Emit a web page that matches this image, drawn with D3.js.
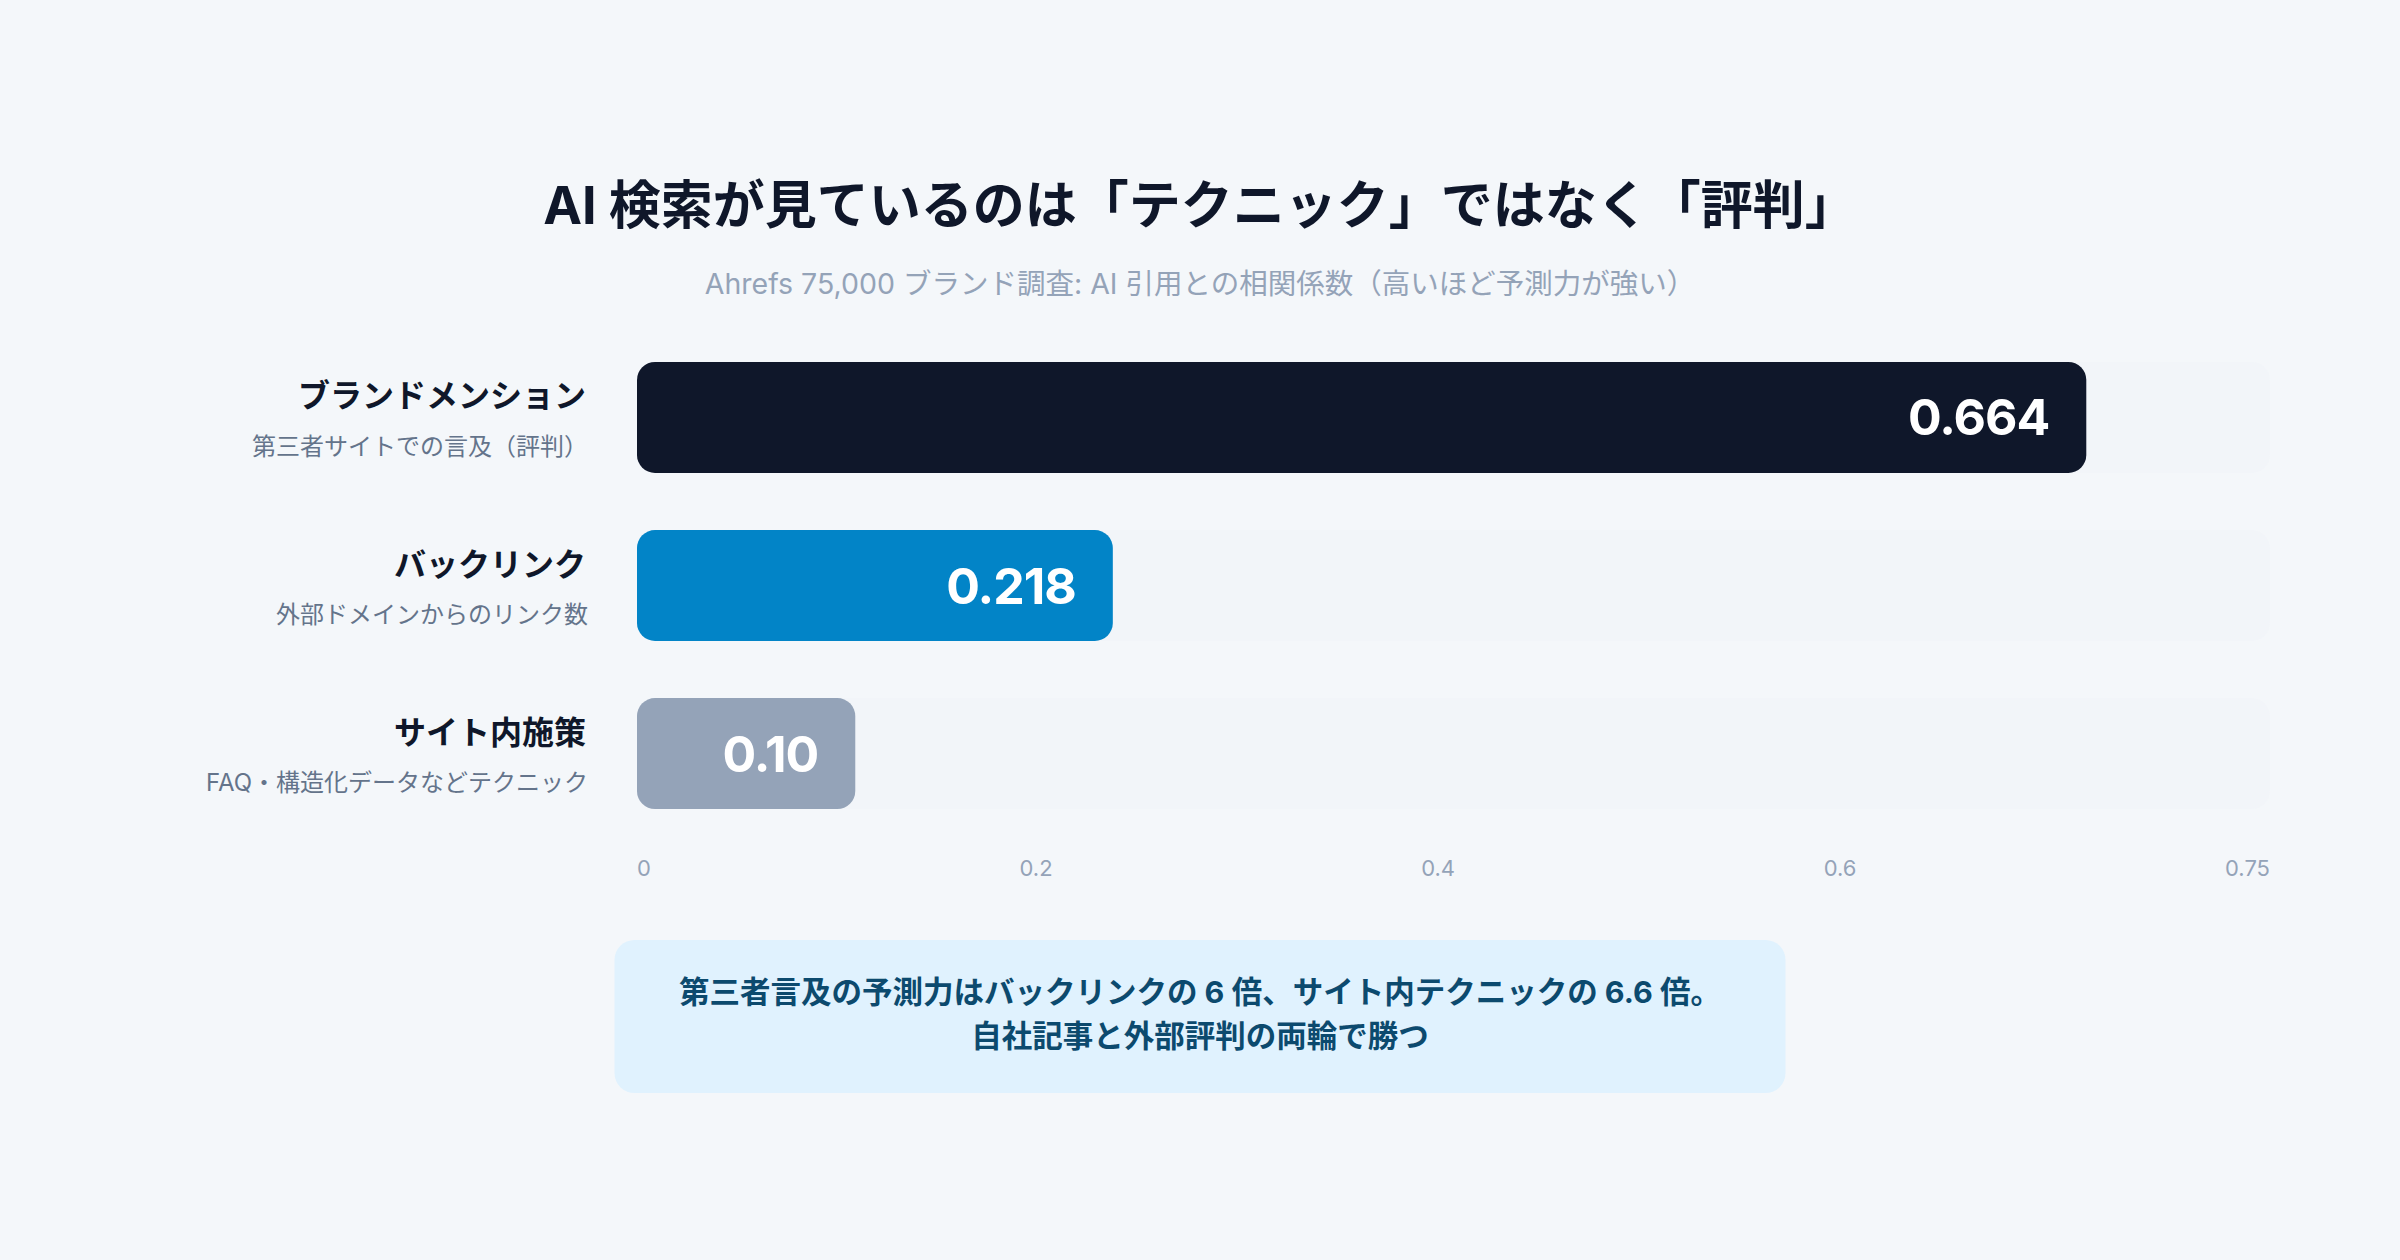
<!DOCTYPE html>
<html lang="ja">
<head>
<meta charset="utf-8">
<script src="https://cdn.jsdelivr.net/npm/d3@7"></script>
<style>
  body { margin: 0; background: #f4f7fa; }
  svg { display: block; }
</style>
</head>
<body>
<div id="chart-area"></div>
<script>
// Data
let categories = ["ブランドメンション", "バックリンク", "サイト内施策"]
let subLabels = ["第三者サイトでの言及（評判）", "外部ドメインからのリンク数", "FAQ・構造化データなどテクニック"]
let values = [0.664, 0.218, 0.10]
let valueLabels = ["0.664", "0.218", "0.10"]
let barColors = ["#0f172a", "#0284c7", "#94a3b8"]
let tickLabels = ["0", "0.2", "0.4", "0.6", "0.75"]
let maxValue = 0.75

let title = "AI 検索が見ているのは「テクニック」ではなく「評判」"
let subtitle = "Ahrefs 75,000 ブランド調査: AI 引用との相関係数（高いほど予測力が強い）"
let noteLines = ["第三者言及の予測力はバックリンクの 6 倍、サイト内テクニックの 6.6 倍。", "自社記事と外部評判の両輪で勝つ"]

width = 2400
height = 1260

let jp = '"Noto Sans CJK JP", "Noto Sans", sans-serif'
let num = 'Inter, "Noto Sans CJK JP", sans-serif'

let data = categories.map((c, i) => ({
  name: c,
  sub: subLabels[i],
  value: values[i],
  label: valueLabels[i],
  color: barColors[i]
}))

Draw(data)

function Draw(data) {

  // scales
  let xScale = d3.scaleLinear().domain([0, maxValue]).range([637, 2274])
  let trackEnd = 2270

  let yScale = d3.scaleBand()
    .domain(categories)
    .range([362, 809])
    .paddingInner(0.34)
    .paddingOuter(0)

  svg = d3.select("#chart-area")
    .append("svg")
    .attr("width", width)
    .attr("height", height)

  svg.append("rect")
    .attr("width", width)
    .attr("height", height)
    .attr("fill", "#f4f7fa")

  // title + subtitle
  svg.append("text")
    .attr("x", width / 2)
    .attr("y", 205)
    .attr("text-anchor", "middle")
    .attr("dominant-baseline", "central")
    .attr("font-family", num)
    .attr("font-size", 52)
    .attr("font-weight", 700)
    .attr("fill", "#0f172a")
    .text(title)

  svg.append("text")
    .attr("x", width / 2)
    .attr("y", 283)
    .attr("text-anchor", "middle")
    .attr("dominant-baseline", "central")
    .attr("font-family", num)
    .attr("font-size", 28.5)
    .attr("fill", "#94a3b8")
    .text(subtitle)

  // faint tracks
  svg.selectAll("rect.track")
    .data(data)
    .enter().append("rect")
    .attr("class", "track")
    .attr("x", xScale(0))
    .attr("y", d => yScale(d.name))
    .attr("width", trackEnd - xScale(0))
    .attr("height", yScale.bandwidth())
    .attr("rx", 18)
    .attr("fill", "#e2e8f0")
    .attr("fill-opacity", 0.07)

  // bars
  svg.selectAll("rect.bar")
    .data(data)
    .enter().append("rect")
    .attr("class", "bar")
    .attr("x", xScale(0))
    .attr("y", d => yScale(d.name))
    .attr("width", d => xScale(d.value) - xScale(0))
    .attr("height", yScale.bandwidth())
    .attr("rx", 18)
    .attr("fill", d => d.color)

  // values inside bars
  svg.selectAll("text.value")
    .data(data)
    .enter().append("text")
    .attr("class", "value")
    .attr("x", d => xScale(d.value) - 37)
    .attr("y", d => yScale(d.name) + yScale.bandwidth() / 2)
    .attr("text-anchor", "end")
    .attr("dominant-baseline", "central")
    .attr("font-family", num)
    .attr("font-size", 50)
    .attr("font-weight", 700)
    .attr("letter-spacing", -1)
    .attr("fill", "#ffffff")
    .text(d => d.label)

  // category labels
  svg.selectAll("text.cat")
    .data(data)
    .enter().append("text")
    .attr("class", "cat")
    .attr("x", 586)
    .attr("y", d => yScale(d.name) + yScale.bandwidth() / 2 - 24)
    .attr("text-anchor", "end")
    .attr("dominant-baseline", "central")
    .attr("font-family", jp)
    .attr("font-size", 32)
    .attr("font-weight", 700)
    .attr("fill", "#0f172a")
    .text(d => d.name)

  svg.selectAll("text.sub")
    .data(data)
    .enter().append("text")
    .attr("class", "sub")
    .attr("x", 588)
    .attr("y", d => yScale(d.name) + yScale.bandwidth() / 2 + 29)
    .attr("text-anchor", "end")
    .attr("dominant-baseline", "central")
    .attr("font-family", num)
    .attr("font-size", 24)
    .attr("fill", "#64748b")
    .text(d => d.sub)

  // tick labels, spread evenly across the track (space-between)
  let ticks = svg.selectAll("text.tick")
    .data(tickLabels)
    .enter().append("text")
    .attr("class", "tick")
    .attr("y", 868)
    .attr("dominant-baseline", "central")
    .attr("font-family", num)
    .attr("font-size", 22)
    .attr("fill", "#94a3b8")
    .text(d => d)

  let widths = ticks.nodes().map(n => n.getComputedTextLength())
  let gap = (trackEnd - xScale(0) - d3.sum(widths)) / (tickLabels.length - 1)
  let pos = xScale(0)
  ticks.attr("x", (d, i) => {
    let p = pos
    pos += widths[i] + gap
    return p
  })

  // note box
  let boxW = 1171
  svg.append("rect")
    .attr("x", width / 2 - boxW / 2)
    .attr("y", 940)
    .attr("width", boxW)
    .attr("height", 153)
    .attr("rx", 20)
    .attr("fill", "#e0f2fe")

  svg.selectAll("text.note")
    .data(noteLines)
    .enter().append("text")
    .attr("class", "note")
    .attr("x", width / 2)
    .attr("y", (d, i) => 991 + i * 44)
    .attr("text-anchor", "middle")
    .attr("dominant-baseline", "central")
    .attr("font-family", num)
    .attr("font-size", 30.5)
    .attr("font-weight", 700)
    .attr("fill", "#0c4a6e")
    .text(d => d)
}
</script>
</body>
</html>
